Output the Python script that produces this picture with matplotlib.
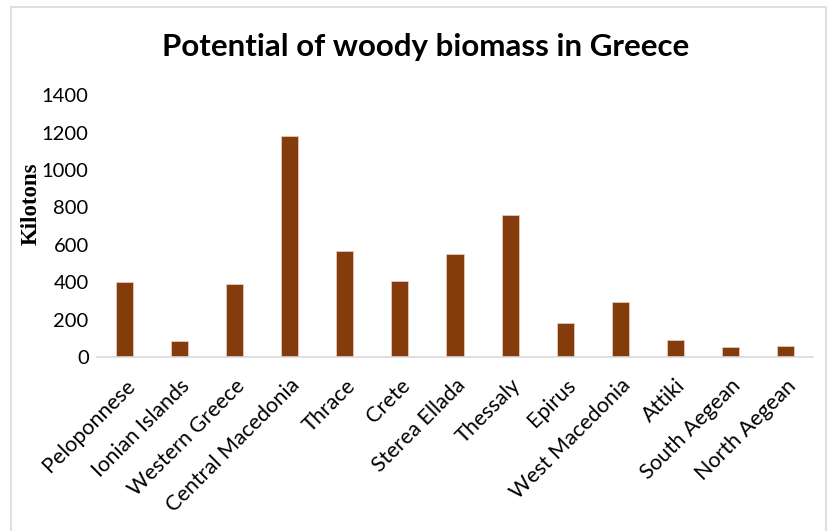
import matplotlib.pyplot as plt
from matplotlib.patches import Rectangle

regions = ["Peloponnese", "Ionian Islands", "Western Greece", "Central Macedonia",
           "Thrace", "Crete", "Sterea Ellada", "Thessaly", "Epirus",
           "West Macedonia", "Attiki", "South Aegean", "North Aegean"]
kilotons = [400, 87, 390, 1183, 569, 406, 550, 758, 183, 297, 94, 53, 60]
yticks = [0, 200, 400, 600, 800, 1000, 1200, 1400]

bar_color = "#843C0C"
grid_gray = "#D9D9D9"

fig = plt.figure(figsize=(8.34, 5.31), dpi=100)
ax = fig.add_axes([0.1163, 0.327, 0.8585, 0.494])

x = list(range(len(regions)))
ax.bar(x, kilotons, width=0.31, color=bar_color, edgecolor="#E6C9B5", linewidth=0.6)

ax.set_xlim(-0.5, len(regions) - 0.5)
ax.set_ylim(0, 1400)
ax.set_yticks(yticks)
ax.set_yticklabels([str(v) for v in yticks], fontsize=14.5, family="Lato")
ax.tick_params(axis="y", length=0, pad=6)
ax.tick_params(axis="x", length=0, pad=13)
ax.set_xticks(x)
ax.set_xticklabels(regions, rotation=45, ha="right", va="top",
                   rotation_mode="anchor", fontsize=15.5, family="Lato")

for side in ["top", "right", "left"]:
    ax.spines[side].set_visible(False)
ax.spines["bottom"].set_color(grid_gray)
ax.spines["bottom"].set_linewidth(1.2)

ax.set_ylabel("Kilotons", family="Liberation Serif", fontweight="bold",
              fontsize=16.5)
ax.yaxis.set_label_coords(-0.077, 0.585)

fig.text(0.51, 0.912, "Potential of woody biomass in Greece", ha="center",
         va="center", fontsize=22.5, fontweight="bold", family="Lato")

# light outer frame around the chart area
fig.patches.append(Rectangle((11 / 834, -0.05), 815 / 834, 1 - 7 / 531 + 0.05,
                             transform=fig.transFigure, fill=False,
                             edgecolor=grid_gray, linewidth=1.2))

fig.savefig("out.png", dpi=100)
